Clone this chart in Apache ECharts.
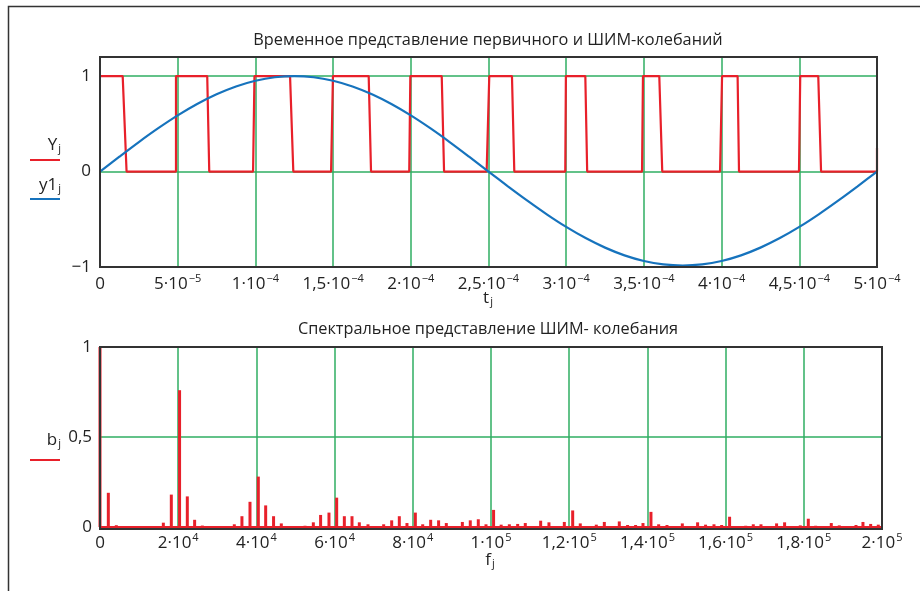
<!DOCTYPE html>
<html>
<head>
<meta charset="utf-8">
<script src="https://cdn.jsdelivr.net/npm/echarts@6/dist/echarts.min.js"></script>
<style>
  html, body { margin: 0; padding: 0; background: #fff; }
  #chart { width: 920px; height: 591px; }
</style>
</head>
<body>
<div id="chart"></div>
<script>
  // ШИМ-сигнал Y_j (время, с / уровень)
  var pwmT = [0, 1.46e-5, 1.71e-5, 4.89e-5, 4.89e-5, 6.90e-5, 7.03e-5, 9.85e-5, 9.94e-5,
    1.223e-4, 1.244e-4, 1.487e-4, 1.499e-4, 1.729e-4, 1.744e-4, 1.990e-4, 1.997e-4,
    2.199e-4, 2.214e-4, 2.488e-4, 2.505e-4, 2.651e-4, 2.666e-4, 2.994e-4, 2.998e-4,
    3.123e-4, 3.135e-4, 3.488e-4, 3.494e-4, 3.599e-4, 3.618e-4, 3.990e-4, 4.003e-4,
    4.103e-4, 4.112e-4, 4.498e-4, 4.506e-4, 4.622e-4, 4.640e-4, 5.0e-4, 5.0e-4]
  var pwmY = [1, 1, 0, 0, 1, 1, 0, 0, 1, 1, 0, 0, 1, 1, 0, 0, 1, 1, 0, 0,
    1, 1, 0, 0, 1, 1, 0, 0, 1, 1, 0, 0, 1, 1, 0, 0, 1, 1, 0, 0, 0.25]

  // первичное колебание y1_j
  var sineT = [0, 1.25e-5, 2.5e-5, 3.75e-5, 5e-5, 6.25e-5, 7.5e-5, 8.75e-5, 1e-4, 1.125e-4,
    1.25e-4, 1.375e-4, 1.5e-4, 1.625e-4, 1.75e-4, 1.875e-4, 2e-4, 2.125e-4, 2.25e-4, 2.375e-4,
    2.5e-4, 2.625e-4, 2.75e-4, 2.875e-4, 3e-4, 3.125e-4, 3.25e-4, 3.375e-4, 3.5e-4, 3.625e-4,
    3.75e-4, 3.875e-4, 4e-4, 4.125e-4, 4.25e-4, 4.375e-4, 4.5e-4, 4.625e-4, 4.75e-4, 4.875e-4, 5e-4]
  var sineY = [0, 0.156, 0.309, 0.454, 0.588, 0.707, 0.809, 0.891, 0.951, 0.988,
    1, 0.988, 0.951, 0.891, 0.809, 0.707, 0.588, 0.454, 0.309, 0.156,
    0, -0.155, -0.305, -0.448, -0.58, -0.697, -0.797, -0.878, -0.937, -0.973,
    -0.985, -0.973, -0.937, -0.878, -0.797, -0.697, -0.58, -0.448, -0.305, -0.155, 0]

  // спектр b_j (частота, Гц / амплитуда)
  var specF = [0, 2130, 4170, 16200, 18240, 20350, 22330, 24200, 26170, 34350, 36300, 38360,
    40490, 42370, 44390, 46370, 52430, 54560, 56420, 58560, 60530, 62490, 64450, 66320,
    68540, 72550, 74600, 76550, 78510, 80650, 82530, 84570, 86600, 88570, 92670, 94700,
    96750, 98720, 100660, 102600, 104690, 106820, 108770, 112700, 114820, 118750, 120890,
    122830, 126930, 128980, 132810, 134930, 136980, 138870, 140910, 142880, 145010, 148930,
    152840, 154880, 157030, 158990, 161020, 165140, 167080, 169050, 173040, 175090, 179100,
    181150, 183030, 187030, 189070, 193350, 195130, 197100, 199050]
  var specB = [1, 0.19, 0.01, 0.024, 0.18, 0.76, 0.17, 0.04, 0.008, 0.015, 0.06, 0.14,
    0.28, 0.12, 0.06, 0.02, 0.007, 0.026, 0.067, 0.08, 0.163, 0.06, 0.06, 0.026,
    0.015, 0.015, 0.037, 0.06, 0.022, 0.08, 0.015, 0.04, 0.037, 0.022, 0.028, 0.037,
    0.043, 0.015, 0.095, 0.013, 0.015, 0.017, 0.022, 0.035, 0.026, 0.028, 0.092,
    0.02, 0.013, 0.028, 0.031, 0.011, 0.011, 0.022, 0.084, 0.015, 0.011, 0.02,
    0.026, 0.013, 0.015, 0.011, 0.057, 0.007, 0.015, 0.015, 0.02, 0.026, 0.009,
    0.046, 0.007, 0.022, 0.009, 0.011, 0.028, 0.017, 0.013]

  // подписи осей
  var topXLabels = ['0', '5·10{s|−5}', '1·10{s|−4}', '1,5·10{s|−4}', '2·10{s|−4}', '2,5·10{s|−4}',
    '3·10{s|−4}', '3,5·10{s|−4}', '4·10{s|−4}', '4,5·10{s|−4}', '5·10{s|−4}']
  var topYTicks = [-1, 0, 1]
  var topYLabels = ['−1', '0', '1']
  var botXLabels = ['0', '2·10{s|4}', '4·10{s|4}', '6·10{s|4}', '8·10{s|4}', '1·10{s|5}',
    '1,2·10{s|5}', '1,4·10{s|5}', '1,6·10{s|5}', '1,8·10{s|5}', '2·10{s|5}']
  var botYTicks = [0, 0.5, 1]
  var botYLabels = ['0', '0,5', '1']

  var FONT = '"Open Sans", sans-serif'
  var TXT = '#222'
  var GREEN = '#2fae62'
  var RED = '#e8202a'
  var BLUE = '#1673bd'

  var labelStyle = {
    color: TXT,
    fontFamily: FONT,
    fontSize: 17,
    lineHeight: 22,
    rich: {
      s: {fontSize: 11, lineHeight: 11, verticalAlign: 'top', fontFamily: FONT, color: TXT, padding: [0, 0, 0, 1]}
    }
  }

  function pickLabel(ticks, labels) {
    return function (v) {
      for (var i = 0; i < ticks.length; i++) {
        if (Math.abs(ticks[i] - v) < 1e-9) return labels[i]
      }
      return ''
    }
  }

  var subRich = {j: {fontSize: 11, verticalAlign: 'bottom', padding: [8, 0, 0, 1], fill: TXT, fontFamily: FONT}}

  var pwmData = pwmT.map(function (t, i) { return [t, pwmY[i]] })
  var sineData = sineT.map(function (t, i) { return [t, sineY[i]] })
  var specData = specF.map(function (f, i) { return [f, specB[i]] })

  var chart = echarts.init(document.getElementById('chart'), null, {renderer: 'canvas'})

  chart.setOption({
    animation: false,
    backgroundColor: '#fff',
    grid: [
      {left: 100, top: 57, width: 777, height: 210},
      {left: 100, top: 347, width: 782, height: 180}
    ],
    xAxis: [
      {
        type: 'value', gridIndex: 0, min: 0, max: 5e-4, interval: 5e-5,
        axisLine: {show: false}, axisTick: {show: false},
        splitLine: {show: true, lineStyle: {color: GREEN, width: 1.5}},
        axisLabel: Object.assign({}, labelStyle, {
          margin: 6,
          formatter: function (v) { return topXLabels[Math.round(v / 5e-5)] || '' }
        })
      },
      {
        type: 'value', gridIndex: 1, min: 0, max: 2e5, interval: 2e4,
        axisLine: {show: false}, axisTick: {show: false},
        splitLine: {show: true, lineStyle: {color: GREEN, width: 1.5}},
        axisLabel: Object.assign({}, labelStyle, {
          margin: 5,
          formatter: function (v) { return botXLabels[Math.round(v / 2e4)] || '' }
        })
      }
    ],
    yAxis: [
      {
        type: 'value', gridIndex: 0, min: -1, max: 1.2, interval: 1,
        axisLine: {show: false}, axisTick: {show: false},
        splitLine: {show: true, lineStyle: {color: GREEN, width: 1.5}},
        axisLabel: Object.assign({}, labelStyle, {
          margin: 9,
          showMaxLabel: false,
          formatter: pickLabel(topYTicks, topYLabels)
        })
      },
      {
        type: 'value', gridIndex: 1, min: 0, max: 1, interval: 0.5,
        axisLine: {show: false}, axisTick: {show: false},
        splitLine: {show: true, lineStyle: {color: GREEN, width: 1.5}},
        axisLabel: Object.assign({}, labelStyle, {
          margin: 8,
          formatter: pickLabel(botYTicks, botYLabels)
        })
      }
    ],
    series: [
      {
        name: 'Y', type: 'line', xAxisIndex: 0, yAxisIndex: 0,
        data: pwmData, showSymbol: false, symbol: 'none',
        lineStyle: {color: RED, width: 2.2}, z: 3
      },
      {
        name: 'y1', type: 'line', xAxisIndex: 0, yAxisIndex: 0,
        data: sineData, showSymbol: false, symbol: 'none', smooth: 0.3,
        lineStyle: {color: BLUE, width: 2.2}, z: 4
      },
      {
        name: 'base', type: 'line', xAxisIndex: 1, yAxisIndex: 1,
        data: [[0, 0], [2e5, 0]], showSymbol: false, symbol: 'none',
        lineStyle: {color: RED, width: 2}, z: 3
      },
      {
        name: 'b', type: 'bar', xAxisIndex: 1, yAxisIndex: 1,
        data: specData, barWidth: 3,
        itemStyle: {color: RED}, z: 4
      }
    ],
    graphic: [
      // рамки
      {type: 'rect', z: 100, silent: true, shape: {x: 8.5, y: 6.5, width: 2000, height: 2000},
        style: {fill: 'none', stroke: '#333', lineWidth: 1.5}},
      {type: 'rect', z: 100, silent: true, shape: {x: 100, y: 57, width: 777, height: 210},
        style: {fill: 'none', stroke: '#333', lineWidth: 2}},
      {type: 'rect', z: 100, silent: true, shape: {x: 100, y: 347, width: 782, height: 182},
        style: {fill: 'none', stroke: '#333', lineWidth: 2}},
      // заголовки
      {type: 'text', z: 100, x: 488, y: 40, style: {
        text: 'Временное представление первичного и ШИМ-колебаний',
        fill: TXT, font: '16.3px ' + FONT, align: 'center', verticalAlign: 'middle'}},
      {type: 'text', z: 100, x: 488, y: 329, style: {
        text: 'Спектральное представление ШИМ- колебания',
        fill: TXT, font: '16.3px ' + FONT, align: 'center', verticalAlign: 'middle'}},
      // обозначения кривых
      {type: 'text', z: 100, x: 61, y: 145, style: {
        text: 'Y{j|j}', fill: TXT, font: '17px ' + FONT, align: 'right', verticalAlign: 'middle', rich: subRich}},
      {type: 'line', z: 100, shape: {x1: 30, y1: 160, x2: 60, y2: 160}, style: {stroke: RED, lineWidth: 2}},
      {type: 'text', z: 100, x: 61, y: 185, style: {
        text: 'y1{j|j}', fill: TXT, font: '17px ' + FONT, align: 'right', verticalAlign: 'middle', rich: subRich}},
      {type: 'line', z: 100, shape: {x1: 30, y1: 199, x2: 60, y2: 199}, style: {stroke: BLUE, lineWidth: 2}},
      {type: 'text', z: 100, x: 61, y: 440, style: {
        text: 'b{j|j}', fill: TXT, font: '17px ' + FONT, align: 'right', verticalAlign: 'middle', rich: subRich}},
      {type: 'line', z: 100, shape: {x1: 30, y1: 460, x2: 60, y2: 460}, style: {stroke: RED, lineWidth: 2}},
      // подписи осей
      {type: 'text', z: 100, x: 488, y: 298, style: {
        text: 't{j|j}', fill: TXT, font: '17px ' + FONT, align: 'center', verticalAlign: 'middle', rich: subRich}},
      {type: 'text', z: 100, x: 490, y: 560, style: {
        text: 'f{j|j}', fill: TXT, font: '17px ' + FONT, align: 'center', verticalAlign: 'middle', rich: subRich}}
    ]
  })
</script>
</body>
</html>
